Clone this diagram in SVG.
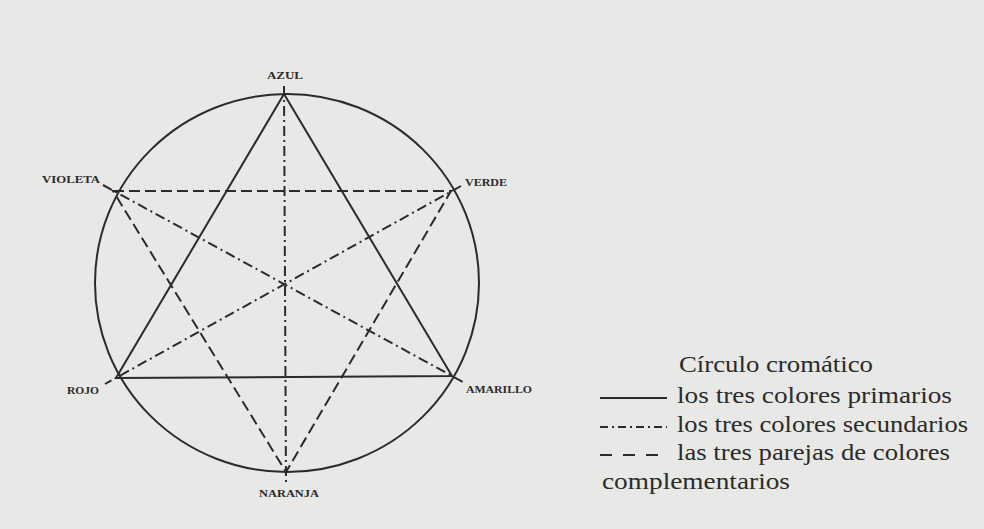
<svg xmlns="http://www.w3.org/2000/svg" width="984" height="529" viewBox="0 0 984 529">
<style>
.ln{stroke:#2b2b2b;stroke-width:2;fill:none;stroke-linecap:butt}
.solid{}
.dash{stroke-dasharray:11 5}
.dd{stroke-dasharray:10 4 2 4}
.lbl{font-family:"Liberation Serif",serif;font-size:11px;fill:#2b2b2b;font-weight:bold}
.leg{font-family:"Liberation Serif","Times New Roman",serif;font-size:23px;fill:#2b2b2b}
</style>
<rect width="984" height="529" fill="#e8e8e6"/>
<g id="circle"><ellipse class="ln" cx="287" cy="283" rx="192" ry="189"/></g>
<g id="connectors">
<polygon class="ln solid" points="284,94 116,378 452,376"/>
<polygon class="ln dash" points="113,191 451,191 286,472"/>
<line class="ln dd" x1="284" y1="86" x2="286" y2="483"/>
<line class="ln dd" x1="103" y1="185" x2="463" y2="382"/>
<line class="ln dd" x1="461" y1="186" x2="105" y2="384"/>
</g>
<g id="azul"><text class="lbl" x="267" y="79" textLength="36" lengthAdjust="spacingAndGlyphs">AZUL</text></g>
<g id="violeta"><text class="lbl" x="42" y="183" textLength="58" lengthAdjust="spacingAndGlyphs">VIOLETA</text></g>
<g id="verde"><text class="lbl" x="465" y="186" textLength="42" lengthAdjust="spacingAndGlyphs">VERDE</text></g>
<g id="rojo"><text class="lbl" x="67" y="394" textLength="32" lengthAdjust="spacingAndGlyphs">ROJO</text></g>
<g id="amarillo"><text class="lbl" x="466" y="393" textLength="66" lengthAdjust="spacingAndGlyphs">AMARILLO</text></g>
<g id="naranja"><text class="lbl" x="259" y="497" textLength="60" lengthAdjust="spacingAndGlyphs">NARANJA</text></g>
<g id="legend">
<text class="leg" x="679" y="372" textLength="194" lengthAdjust="spacingAndGlyphs">Círculo cromático</text>
<line class="ln solid" x1="600" y1="398" x2="667" y2="398"/>
<text class="leg" x="677" y="403" textLength="275" lengthAdjust="spacingAndGlyphs">los tres colores primarios</text>
<line class="ln" style="stroke-dasharray:8 4 2 4" x1="600" y1="427" x2="667" y2="427"/>
<text class="leg" x="677" y="432" textLength="291" lengthAdjust="spacingAndGlyphs">los tres colores secundarios</text>
<line class="ln" style="stroke-dasharray:12 11" x1="600" y1="455" x2="667" y2="455"/>
<text class="leg" x="677" y="460" textLength="273" lengthAdjust="spacingAndGlyphs">las tres parejas de colores</text>
<text class="leg" x="602" y="489" textLength="188" lengthAdjust="spacingAndGlyphs">complementarios</text>
</g>
</svg>
